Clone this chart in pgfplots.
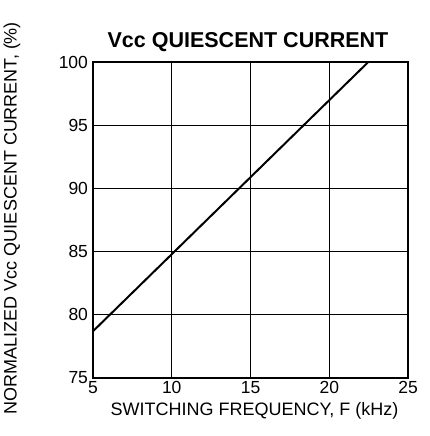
\documentclass[border=0pt]{standalone}
\usepackage{fontspec}
\setmainfont{Liberation Sans}
\usepackage{pgfplots}
\pgfplotsset{compat=1.18}
\newcommand{\tfont}{\fontsize{17.5}{21}\selectfont}
\begin{document}
\begin{tikzpicture}
\useasboundingbox (0pt,0pt) rectangle (430pt,436pt);
\begin{axis}[
  at={(93pt,58pt)}, anchor=south west,
  scale only axis, width=315pt, height=316pt,
  xmin=5, xmax=25, ymin=75, ymax=100,
  xtick={5,10,15,20,25}, ytick={75,80,85,90,95,100},
  xticklabel={\tfont\pgfmathprintnumber[assume math mode=true]{\tick}},
  yticklabel={\tfont\pgfmathprintnumber[assume math mode=true]{\tick}},
  grid=major, major grid style={black, line width=0.9pt},
  axis line style={black, line width=1.2pt},
  major tick length=0pt,
  yticklabel style={xshift=-1.5pt},
]
\addplot[black, line width=2pt] coordinates {(5,78.7) (22.48,100)};
\end{axis}
\node[font=\bfseries\fontsize{21.5}{25}\selectfont] at (248pt,393.5pt) {Vcc QUIESCENT CURRENT};
\node[font=\fontsize{18}{21}\selectfont] at (254.5pt,25pt) {SWITCHING FREQUENCY, F (kHz)};
\node[rotate=90, font=\fontsize{18}{21}\selectfont] at (12pt,218pt) {NORMALIZED Vcc QUIESCENT CURRENT, (\%)};
\end{tikzpicture}
\end{document}
